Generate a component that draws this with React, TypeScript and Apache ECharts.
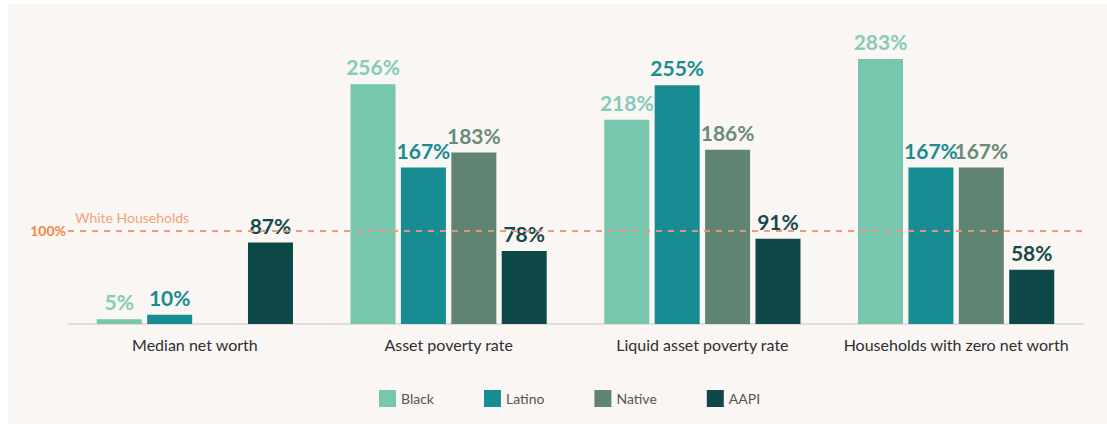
import React, { useEffect, useRef } from "react";
import * as echarts from "echarts";

const categories = [
  "Median net worth",
  "Asset poverty rate",
  "Liquid asset poverty rate",
  "Households with zero net worth",
];
const seriesNames = ["Black", "Latino", "Native", "AAPI"];
const black = [5, 256, 218, 283];
const latino = [10, 167, 255, 167];
const native = [null, 183, 186, 167];
const aapi = [87, 78, 91, 58];
const whiteBaseline = 100;

const colors = ["#77c6ae", "#178d93", "#5f8572", "#0f4848"];
const labelColors = ["#86cbb5", "#1a8b91", "#6a8a7a", "#154a4a"];

export default function App() {
  const ref = useRef<HTMLDivElement>(null);
  useEffect(() => {
    if (!ref.current) return;
    const chart = echarts.init(ref.current, undefined, { renderer: "svg" });
    const data = [black, latino, native, aapi];
    const series: any[] = data.map((d, i) => ({
      name: seriesNames[i],
      type: "bar",
      data: d,
      barWidth: 45,
      barGap: "12%",
      itemStyle: { color: colors[i] },
      label: {
        show: true,
        position: "top",
        distance: 7,
        formatter: (p: any) => (p.value == null ? "" : p.value + "%"),
        color: labelColors[i],
        fontFamily: "Lato",
        fontWeight: 700,
        fontSize: 21,
      },
    }));
    series[0].markLine = {
      silent: true,
      symbol: "none",
      lineStyle: { color: "#f0947f", type: [6, 6], width: 1.5 },
      data: [
        {
          yAxis: whiteBaseline,
          label: {
            position: "start",
            formatter: "100%",
            color: "#f08a3e",
            fontFamily: "Lato",
            fontWeight: 700,
            fontSize: 14,
            distance: 2,
          },
        },
        {
          yAxis: whiteBaseline,
          label: {
            position: "insideStartTop",
            formatter: "White Households",
            color: "#f4a377",
            fontFamily: "Lato",
            fontSize: 14,
            distance: [7, 6],
          },
        },
      ],
    };
    chart.setOption({
      animation: false,
      backgroundColor: "#ffffff",
      graphic: [
        {
          type: "rect",
          z: -10,
          silent: true,
          shape: { x: 8, y: 4, width: 1099, height: 420 },
          style: { fill: "#f9f6f4" },
        },
      ],
      grid: { left: 68, right: 24, top: 43, bottom: 100 },
      legend: {
        data: seriesNames,
        left: 374,
        top: 385,
        icon: "rect",
        itemWidth: 17,
        itemHeight: 17,
        itemGap: 50,
        textStyle: { color: "#555", fontFamily: "Lato", fontSize: 14 },
      },
      xAxis: {
        type: "category",
        data: categories,
        axisLine: { lineStyle: { color: "#d9d5d3", width: 1.5 } },
        axisTick: { show: false },
        axisLabel: {
          interval: 0,
          color: "#2f2f2f",
          fontFamily: "Lato",
          fontSize: 16,
          margin: 12,
        },
      },
      yAxis: {
        type: "value",
        min: 0,
        max: 300,
        show: false,
        splitLine: { show: false },
      },
      series,
    });
    return () => chart.dispose();
  }, []);
  return (
    <div
      ref={ref}
      style={{ position: "fixed", left: 0, top: 0, width: 1107, height: 424 }}
    />
  );
}
